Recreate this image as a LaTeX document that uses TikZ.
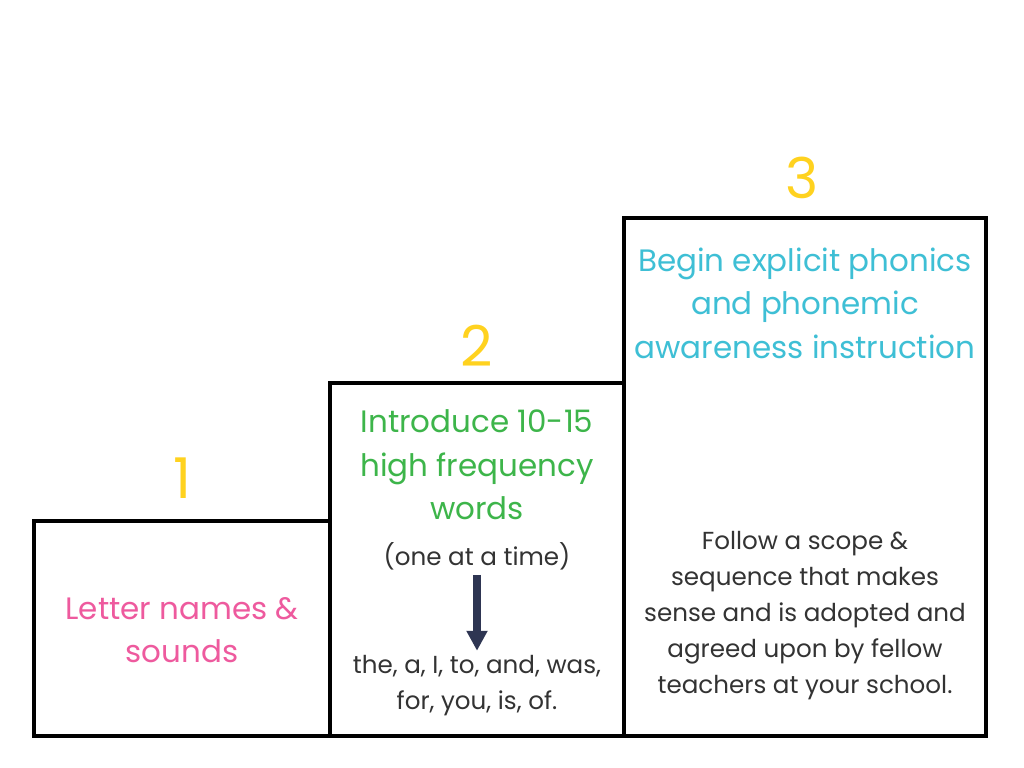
\documentclass[tikz,border=0pt]{standalone}
\usepackage{xcolor}
\usepackage{fontspec}
\setmainfont{Poppins}
\usepackage{tikz}
\usetikzlibrary{arrows.meta, positioning}

\definecolor{rosa}{HTML}{EE5A9E}
\definecolor{verde}{HTML}{3DB54A}
\definecolor{azul}{HTML}{3EBFD5}
\definecolor{amarelo}{HTML}{FFD21F}
\definecolor{texto}{HTML}{333333}
\definecolor{marinho}{HTML}{2E3552}

\begin{document}
\begin{tikzpicture}[
        x=0.025cm, y=-0.025cm, % 1 unidade = 1 pixel da imagem
        degrau/.style={line width=0.1cm, draw=black},
        numero/.style={font=\fontsize{40}{40}\selectfont, text=amarelo},
        titulo/.style={align=center, font=\fontsize{22}{31}\selectfont},
        corpo/.style={align=center, text=texto, font=\fontsize{17.5}{25.6}\selectfont},
        seta/.style={-{Triangle[width=0.5cm, length=0.5cm]}, line width=0.2cm, color=marinho}
        ]
        \useasboundingbox[fill=white] (0,0) rectangle (1024,768);

        % Degraus
        \draw[degrau] (34,736) rectangle (330,521);
        \draw[degrau] (330,736) rectangle (624,383);
        \draw[degrau] (624,736) rectangle (986,218);

        % Numeros
        \node[numero] (n1) at (182,478) {1};
        \node[numero] (n2) at (477,346) {2};
        \node[numero] (n3) at (802,178) {3};

        % Degrau 1
        \node[titulo, text=rosa] (letras) at (182,630) {Letter names \&\\sounds};

        % Degrau 2
        \node[titulo, text=verde] (introduzir) at (477,465) {Introduce 10-15\\high frequency\\words};
        \node[corpo] (umavez) at (477,556) {(one at a time)};
        \node[corpo] (palavras) at (477,686) {the, a, I, to, and, was,\\for, you, is, of.};
        \draw[seta] (umavez.south) -- (palavras.north);

        % Degrau 3
        \node[titulo, text=azul] (fonica) at (805,303) {Begin explicit phonics\\and phonemic\\awareness instruction};
        \node[corpo] (sequencia) at (805,616) {Follow a scope \&\\sequence that makes\\sense and is adopted and\\agreed upon by fellow\\teachers at your school.};

    \end{tikzpicture}
\end{document}
